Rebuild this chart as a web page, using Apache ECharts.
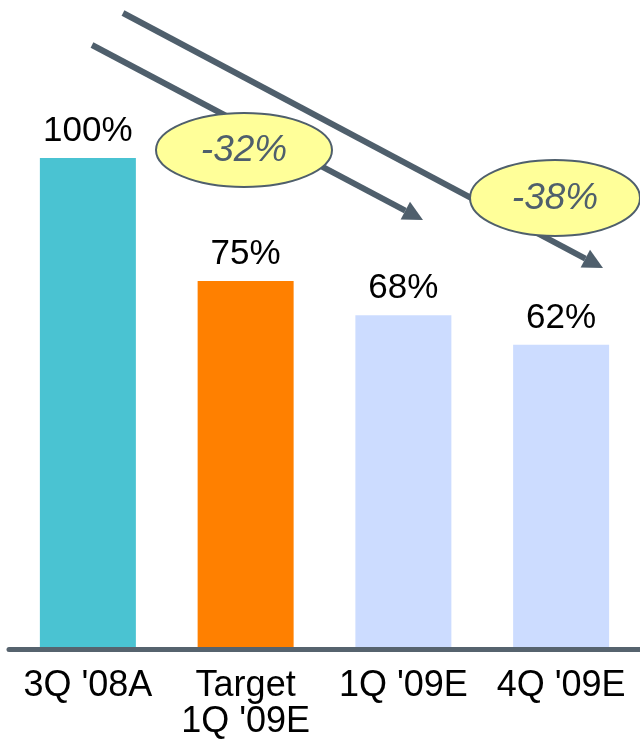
<!DOCTYPE html>
<html>
<head>
<meta charset="utf-8">
<script src="https://cdn.jsdelivr.net/npm/echarts@6/dist/echarts.min.js"></script>
<style>
  html, body { margin: 0; padding: 0; background: #ffffff; }
  #chart { width: 640px; height: 746px; }
</style>
</head>
<body>
<div id="chart"></div>
<script>
// Quarterly level, indexed to 3Q '08 actual = 100%
const categories = ["3Q '08A", "Target\n1Q '09E", "1Q '09E", "4Q '09E"];
const values = [100, 75, 68, 62];
const barColors = ['#4ac3d2', '#ff8000', '#ccdcff', '#ccdcff'];
// Declines versus the 3Q '08 actual, shown in the callouts
const changeLabels = ['-32%', '-38%'];

const slate = '#4f5f6c';
const font = '"Liberation Sans", Arial, sans-serif';

function arrow(x1, y1, x2, y2) {
  const ang = Math.atan2(y2 - y1, x2 - x1);
  const len = 20, half = 10;
  const bx = x2 - len * Math.cos(ang), by = y2 - len * Math.sin(ang);
  const px = -Math.sin(ang) * half, py = Math.cos(ang) * half;
  return [
    { type: 'line', z: 10, shape: { x1: x1, y1: y1, x2: bx, y2: by },
      style: { stroke: slate, lineWidth: 6 } },
    { type: 'polygon', z: 10,
      shape: { points: [[x2, y2], [bx + px, by + py], [bx - px, by - py]] },
      style: { fill: slate } }
  ];
}

function callout(cx, cy, rx, ry, text) {
  return [
    { type: 'ellipse', z: 20, shape: { cx: cx, cy: cy, rx: rx, ry: ry },
      style: { fill: '#ffff99', stroke: slate, lineWidth: 2 } },
    { type: 'text', z: 21, x: cx, y: cy + 1,
      style: { text: text, fill: slate, font: 'italic 37px ' + font,
               align: 'center', verticalAlign: 'middle' } }
  ];
}

const chart = echarts.init(document.getElementById('chart'));
chart.setOption({
  animation: false,
  grid: { left: 9, right: 0, top: 158, bottom: 96.5 },
  xAxis: {
    type: 'category',
    data: categories,
    z: 5,
    axisLine: { lineStyle: { color: '#56636e', width: 5 } },
    axisTick: { show: false },
    axisLabel: { interval: 0, color: '#000', fontSize: 36, lineHeight: 36, fontFamily: font, margin: 19 }
  },
  yAxis: { type: 'value', min: 0, max: 100, show: false, splitLine: { show: false } },
  series: [{
    type: 'bar',
    barWidth: 96,
    data: values.map((v, i) => ({ value: v, itemStyle: { color: barColors[i] } })),
    label: {
      show: true, position: 'top', distance: 9,
      formatter: p => p.value + '%',
      color: '#000', fontSize: 35, lineHeight: 35, fontFamily: font
    }
  }],
  graphic: [].concat(
    arrow(92, 45, 423, 220),
    arrow(123, 13, 603, 268),
    callout(244, 150, 88, 37, changeLabels[0]),
    callout(555, 198, 85, 38, changeLabels[1])
  )
});
</script>
</body>
</html>
